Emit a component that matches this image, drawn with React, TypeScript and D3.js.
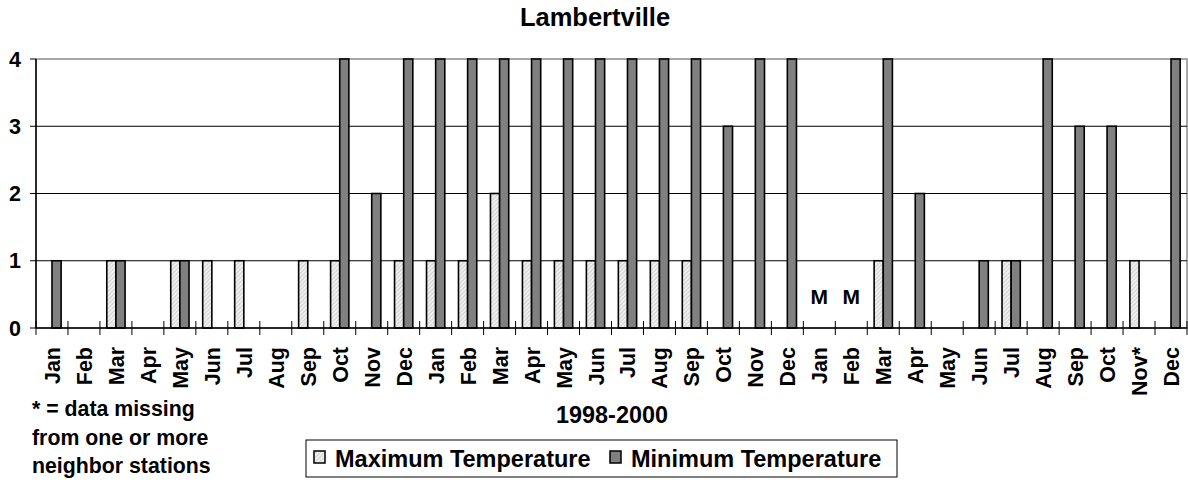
import { useEffect, useRef } from "react";
import * as d3 from "d3";

const months = [
  "Jan", "Feb", "Mar", "Apr", "May", "Jun", "Jul", "Aug", "Sep", "Oct", "Nov", "Dec",
  "Jan", "Feb", "Mar", "Apr", "May", "Jun", "Jul", "Aug", "Sep", "Oct", "Nov", "Dec",
  "Jan", "Feb", "Mar", "Apr", "May", "Jun", "Jul", "Aug", "Sep", "Oct", "Nov*", "Dec",
];

// null = missing month (drawn as "M")
const maxTemp: (number | null)[] = [
  0, 0, 1, 0, 1, 1, 1, 0, 1, 1, 0, 1,
  1, 1, 2, 1, 1, 1, 1, 1, 1, 0, 0, 0,
  null, null, 1, 0, 0, 0, 1, 0, 0, 0, 1, 0,
];

const minTemp: (number | null)[] = [
  1, 0, 1, 0, 1, 0, 0, 0, 0, 4, 2, 4,
  4, 4, 4, 4, 4, 4, 4, 4, 4, 3, 4, 4,
  null, null, 4, 2, 0, 1, 1, 4, 3, 3, 0, 4,
];

const yTicks = [0, 1, 2, 3, 4];
const seriesNames = ["Maximum Temperature", "Minimum Temperature"];
const noteLines = ["* = data missing", "from one or more", "neighbor stations"];

const FONT = "'Liberation Sans', Arial, Helvetica, sans-serif";

export default function App() {
  const svgRef = useRef<SVGSVGElement>(null);

  useEffect(() => {
    if (!svgRef.current) return;
    const svg = d3.select(svgRef.current);
    svg.selectAll("*").remove();

    const left = 36;
    const right = 1187;
    const top = 59;
    const bottom = 328;

    const x = d3
      .scaleBand<number>()
      .domain(months.map((_, i) => i))
      .range([left, right]);

    const x1 = d3
      .scaleBand<string>()
      .domain(["max", "min"])
      .range([0, x.bandwidth()])
      .paddingInner(0)
      .paddingOuter(0.75);

    const y = d3.scaleLinear().domain([0, 4]).range([bottom, top]);

    // hatch pattern for the max series
    const defs = svg.append("defs");
    const pat = defs
      .append("pattern")
      .attr("id", "hatch")
      .attr("patternUnits", "userSpaceOnUse")
      .attr("width", 3)
      .attr("height", 3)
      .attr("patternTransform", "rotate(45)");
    pat.append("rect").attr("width", 3).attr("height", 3).attr("fill", "#eeeeee");
    pat
      .append("line")
      .attr("x1", 0)
      .attr("y1", 0)
      .attr("x2", 0)
      .attr("y2", 3)
      .attr("stroke", "#b8b8b8")
      .attr("stroke-width", 1);

    // Title
    svg
      .append("text")
      .attr("x", 595)
      .attr("y", 26)
      .attr("text-anchor", "middle")
      .attr("font-family", FONT)
      .attr("font-weight", "bold")
      .attr("font-size", 25.5)
      .text("Lambertville");

    // Plot area border (gray)
    svg
      .append("rect")
      .attr("x", left)
      .attr("y", top)
      .attr("width", right - left)
      .attr("height", bottom - top)
      .attr("fill", "none")
      .attr("stroke", "#8c8c8c")
      .attr("stroke-width", 1.5);

    // Grid lines
    svg
      .append("g")
      .selectAll("line")
      .data(yTicks.filter((t) => t > 0 && t < 4))
      .join("line")
      .attr("x1", left)
      .attr("x2", right)
      .attr("y1", (d) => y(d))
      .attr("y2", (d) => y(d))
      .attr("stroke", "#000")
      .attr("stroke-width", 1);

    // Bars
    const bars = svg.append("g");
    const drawSeries = (vals: (number | null)[], key: string, fill: string) => {
      bars
        .append("g")
        .selectAll("rect")
        .data(vals.map((v, i) => ({ v, i })).filter((d) => d.v !== null && d.v > 0))
        .join("rect")
        .attr("x", (d) => (x(d.i) || 0) + (x1(key) || 0))
        .attr("y", (d) => y(d.v as number))
        .attr("width", x1.bandwidth())
        .attr("height", (d) => bottom - y(d.v as number))
        .attr("fill", fill)
        .attr("stroke", "#000")
        .attr("stroke-width", 1.6);
    };
    drawSeries(maxTemp, "max", "url(#hatch)");
    drawSeries(minTemp, "min", "#808080");

    // Missing markers
    svg
      .append("g")
      .selectAll("text")
      .data(months.map((_, i) => i).filter((i) => maxTemp[i] === null))
      .join("text")
      .attr("x", (i) => (x(i) || 0) + x.bandwidth() / 2)
      .attr("y", y(0.35))
      .attr("text-anchor", "middle")
      .attr("font-family", FONT)
      .attr("font-weight", "bold")
      .attr("font-size", 21)
      .text("M");

    // Axes lines
    svg
      .append("line")
      .attr("x1", left)
      .attr("x2", left)
      .attr("y1", top)
      .attr("y2", bottom)
      .attr("stroke", "#000")
      .attr("stroke-width", 1.5);
    svg
      .append("line")
      .attr("x1", left)
      .attr("x2", right)
      .attr("y1", bottom)
      .attr("y2", bottom)
      .attr("stroke", "#000")
      .attr("stroke-width", 1.5);

    // X ticks (cross)
    const bounds = d3.range(months.length + 1).map((i) => left + i * x.step());
    svg
      .append("g")
      .selectAll("line")
      .data(bounds)
      .join("line")
      .attr("x1", (d) => d)
      .attr("x2", (d) => d)
      .attr("y1", bottom - 7)
      .attr("y2", bottom + 7)
      .attr("stroke", "#000")
      .attr("stroke-width", 1);

    // Y ticks + labels
    const yAxis = svg.append("g");
    yAxis
      .selectAll("line")
      .data(yTicks)
      .join("line")
      .attr("x1", left - 6)
      .attr("x2", left)
      .attr("y1", (d) => y(d))
      .attr("y2", (d) => y(d))
      .attr("stroke", "#000")
      .attr("stroke-width", 1);
    yAxis
      .selectAll("text")
      .data(yTicks)
      .join("text")
      .attr("x", 21)
      .attr("y", (d) => y(d) + 7.5)
      .attr("text-anchor", "end")
      .attr("font-family", FONT)
      .attr("font-weight", "bold")
      .attr("font-size", 21.5)
      .text((d) => String(d));

    // X labels (rotated)
    svg
      .append("g")
      .selectAll("text")
      .data(months)
      .join("text")
      .attr("transform", (_, i) => {
        const cx = (x(i) || 0) + x.bandwidth() / 2 + 8;
        return `translate(${cx},${bottom + 19}) rotate(-90)`;
      })
      .attr("text-anchor", "end")
      .attr("font-family", FONT)
      .attr("font-weight", "bold")
      .attr("font-size", 21.5)
      .text((d) => d);

    // X axis title
    svg
      .append("text")
      .attr("x", 612)
      .attr("y", 423)
      .attr("text-anchor", "middle")
      .attr("font-family", FONT)
      .attr("font-weight", "bold")
      .attr("font-size", 23.4)
      .text("1998-2000");

    // Footnote
    svg
      .append("g")
      .selectAll("text")
      .data(noteLines)
      .join("text")
      .attr("x", 32)
      .attr("y", (_, i) => 416 + i * 28.5)
      .attr("font-family", FONT)
      .attr("font-weight", "bold")
      .attr("font-size", 21.3)
      .text((d) => d);

    // Legend
    const legend = svg.append("g");
    legend
      .append("rect")
      .attr("x", 306)
      .attr("y", 440)
      .attr("width", 591)
      .attr("height", 37)
      .attr("fill", "#fff")
      .attr("stroke", "#000")
      .attr("stroke-width", 1);
    const legendX = [314, 610];
    const legendFill = ["url(#hatch)", "#808080"];
    seriesNames.forEach((name, i) => {
      legend
        .append("rect")
        .attr("x", legendX[i])
        .attr("y", 451)
        .attr("width", 11)
        .attr("height", 12)
        .attr("fill", legendFill[i])
        .attr("stroke", "#000")
        .attr("stroke-width", 1.5);
      legend
        .append("text")
        .attr("x", legendX[i] + 21)
        .attr("y", 467)
        .attr("font-family", FONT)
        .attr("font-weight", "bold")
        .attr("font-size", 23.5)
        .text(name);
    });
  }, []);

  return (
    <div style={{ position: "absolute", left: 0, top: 0, width: 1188, height: 480, background: "#fff" }}>
      <svg ref={svgRef} width={1188} height={480} style={{ display: "block" }} />
    </div>
  );
}
